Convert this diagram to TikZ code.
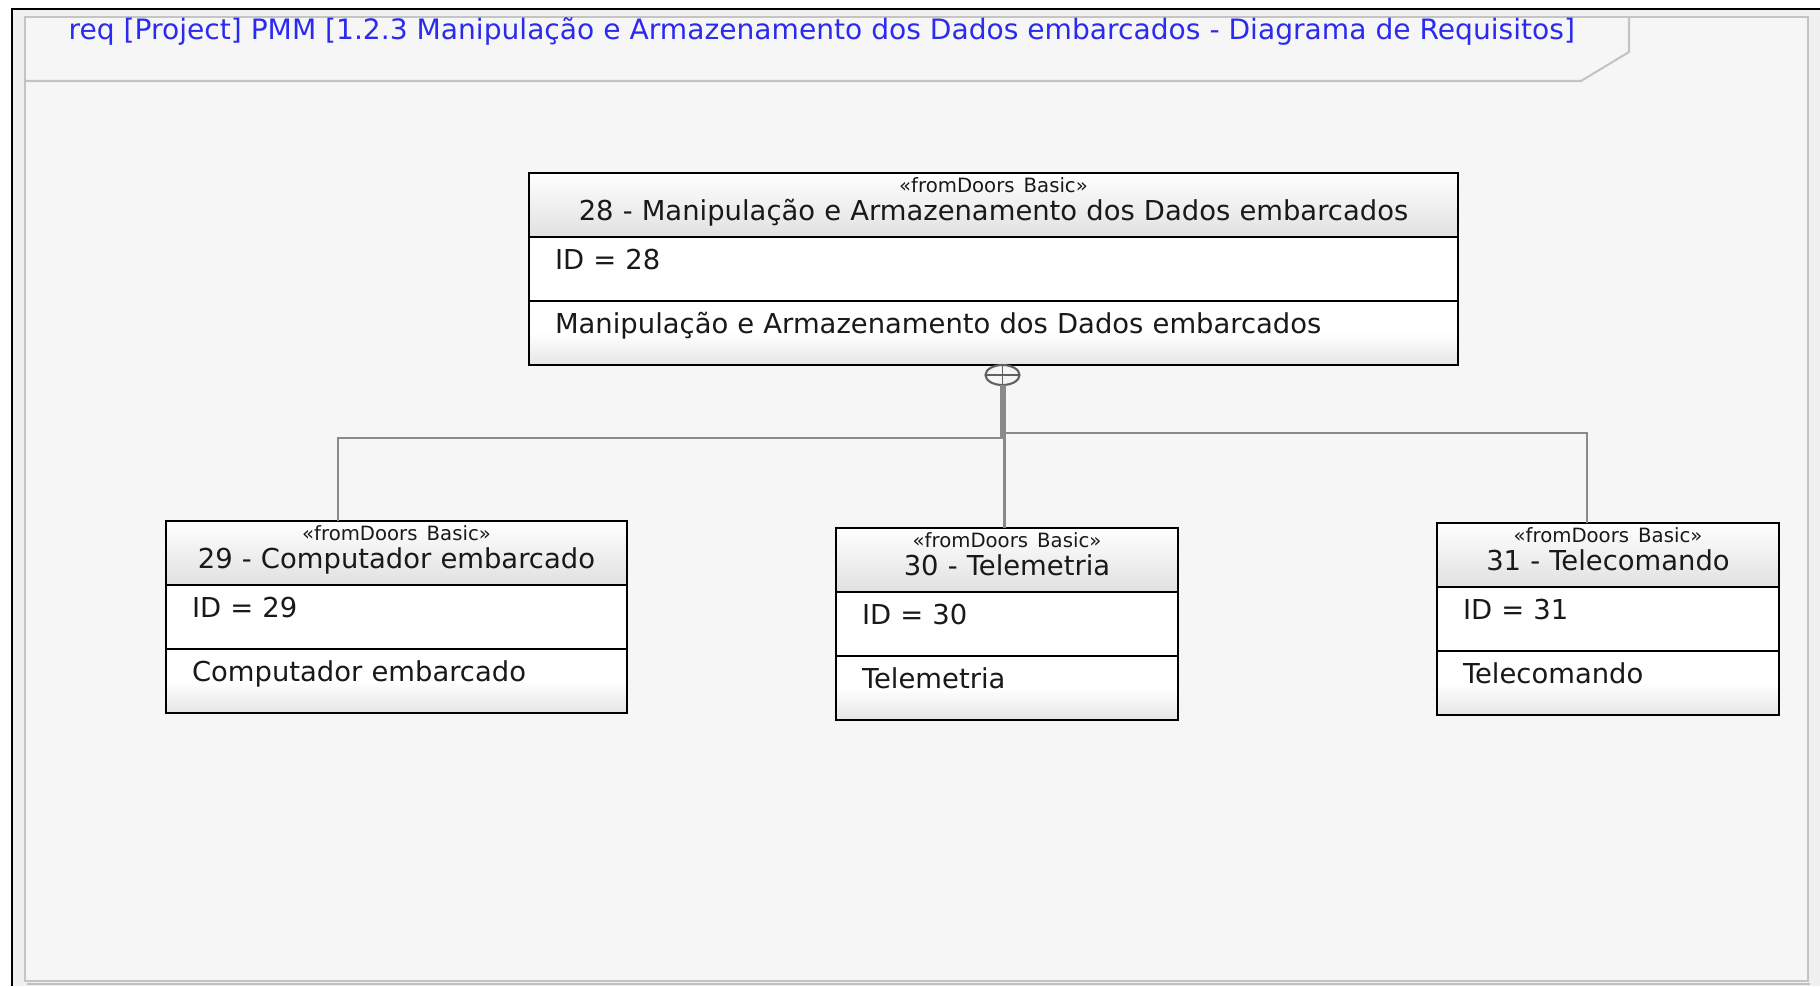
\documentclass[tikz,border=0pt]{standalone}
\usepackage{fontspec}
\setmainfont{DejaVu Sans}
\usetikzlibrary{positioning, shapes.geometric}
\definecolor{titleblue}{HTML}{2B2BF0}
\definecolor{framebg}{HTML}{F6F6F6}
\definecolor{edgegray}{HTML}{C4C4C4}
\definecolor{linkgray}{HTML}{8A8A8A}

\begin{document}
\begin{tikzpicture}[
    line join=miter,
    reqhead/.style={rectangle, draw=black, line width=0.6pt, top color=white, bottom color=black!12, text=black!90, align=center, text width=#1, inner xsep=2.6mm, inner ysep=0pt, outer sep=0pt, text height=1.9mm, text depth=4.5mm, font=\fontsize{7.8}{8}\selectfont},
    reqid/.style={rectangle, draw=black, line width=0.6pt, fill=white, text=black!90, align=left, text width=#1, inner xsep=2.6mm, inner ysep=0pt, outer sep=0pt, text height=3.2mm, text depth=3.2mm, font=\fontsize{7.8}{9}\selectfont},
    reqtext/.style={reqid=#1, top color=white, bottom color=black!10, middle color=white},
    contain/.style={ellipse, draw=linkgray!70!black, fill=framebg, line width=0.6pt, minimum width=3.4mm, minimum height=2mm, inner sep=0pt, outer sep=0pt,
        path picture={\draw[linkgray!70!black, line width=0.5pt] (path picture bounding box.north) -- (path picture bounding box.south) (path picture bounding box.west) -- (path picture bounding box.east);}},
    link/.style={draw=linkgray, line width=0.6pt},
    trunk/.style={draw=linkgray, line width=1.2pt}
]
\useasboundingbox (0,0) rectangle (18.2,-9.86);

% diagram frame
\fill[white] (0,0) rectangle (18.2,-9.86);
\fill[black!6] (0.12,-0.09) rectangle (18.2,-9.86);
\draw[black, line width=0.7pt] (0.12,-9.86) -- (0.12,-0.09) -- (18.2,-0.09);
\draw[edgegray, fill=framebg, line width=0.6pt] (0.25,-0.17) rectangle (18.08,-9.81);
\draw[black!25, line width=0.6pt] (0.27,-9.84) -- (18.1,-9.84);
\draw[edgegray, line width=0.6pt] (16.29,-0.17) -- (16.29,-0.52) -- (15.81,-0.81) -- (0.25,-0.81);
\node[anchor=west, inner sep=0pt, text=titleblue, font=\fontsize{8}{9}\selectfont] (title) at (0.68,-0.31)
    {req [Project] PMM [1.2.3 Manipulação e Armazenamento dos Dados embarcados - Diagrama de Requisitos]};

% requirement 28
\node[reqhead=8.77cm, anchor=north west] (r28h) at (5.29,-1.73)
    {{\fontsize{5.6}{7}\selectfont «fromDoors Basic»}\\28 - Manipulação e Armazenamento dos Dados embarcados};
\node[reqid=8.77cm, below=0pt of r28h] (r28id) {ID = 28};
\node[reqtext=8.77cm, below=0pt of r28id] (r28tx) {Manipulação e Armazenamento dos Dados embarcados};

% requirement 29
\node[reqhead=4.09cm, anchor=north west] (r29h) at (1.66,-5.21)
    {{\fontsize{5.6}{7}\selectfont «fromDoors Basic»}\\29 - Computador embarcado};
\node[reqid=4.09cm, below=0pt of r29h] (r29id) {ID = 29};
\node[reqtext=4.09cm, below=0pt of r29id] (r29tx) {Computador embarcado};

% requirement 30
\node[reqhead=2.9cm, anchor=north west] (r30h) at (8.36,-5.28)
    {{\fontsize{5.6}{7}\selectfont «fromDoors Basic»}\\30 - Telemetria};
\node[reqid=2.9cm, below=0pt of r30h] (r30id) {ID = 30};
\node[reqtext=2.9cm, below=0pt of r30id] (r30tx) {Telemetria};

% requirement 31
\node[reqhead=2.9cm, anchor=north west] (r31h) at (14.37,-5.23)
    {{\fontsize{5.6}{7}\selectfont «fromDoors Basic»}\\31 - Telecomando};
\node[reqid=2.9cm, below=0pt of r31h] (r31id) {ID = 31};
\node[reqtext=2.9cm, below=0pt of r31id] (r31tx) {Telecomando};

% containment
\node[contain, below=0pt of r28tx, xshift=0.9mm] (ct) {};
\draw[link] (ct.south |- 0,-4.38) -| ([xshift=-5.85mm]r29h.north);
\draw[link] ([xshift=0.2mm]ct.south) -- ([xshift=0.2mm]ct.south |- r30h.north);
\draw[link] (ct.south |- 0,-4.33) -| ([xshift=-2.1mm]r31h.north);
\draw[trunk] (ct.south) -- (ct.south |- 0,-4.38);

\end{tikzpicture}
\end{document}
